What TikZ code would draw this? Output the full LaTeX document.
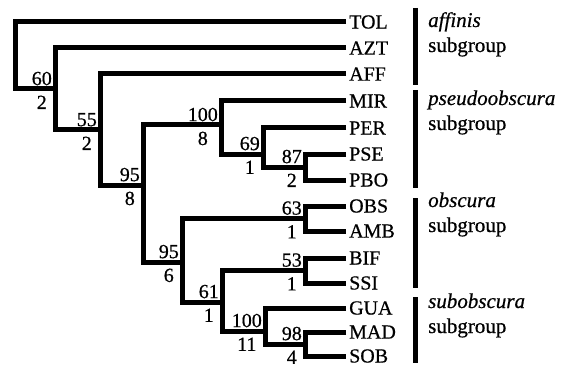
\documentclass[tikz,border=0pt]{standalone}
\usepackage{fontspec}
\setmainfont{Liberation Serif}[FakeBold=0.6]
\begin{document}
\begin{tikzpicture}[x=1pt,y=-1pt,
  br/.style={line width=5pt, line join=miter, line cap=butt},
  leaf/.style={anchor=west, inner xsep=3pt, inner ysep=0pt, font=\fontsize{20}{24}\selectfont},
  bs/.style={anchor=south east, inner sep=0pt, font=\fontsize{20}{24}\selectfont},
  dc/.style={anchor=north, inner sep=0pt, font=\fontsize{20}{24}\selectfont},
  grp/.style={anchor=base west, inner sep=0pt, font=\fontsize{21}{25}\selectfont},
  gbar/.style={line width=5pt, line cap=butt}]
\useasboundingbox (0,0) rectangle (569,374);
% leaves
\node[leaf] (TOL) at (346,22) {TOL};
\node[leaf] (AZT) at (346,48) {AZT};
\node[leaf] (AFF) at (346,74) {AFF};
\node[leaf] (MIR) at (346,101) {MIR};
\node[leaf] (PER) at (346,128) {PER};
\node[leaf] (PSE) at (346,154) {PSE};
\node[leaf] (PBO) at (346,180) {PBO};
\node[leaf] (OBS) at (346,206) {OBS};
\node[leaf] (AMB) at (346,231) {AMB};
\node[leaf] (BIF) at (346,258) {BIF};
\node[leaf] (SSI) at (346,283) {SSI};
\node[leaf] (GUA) at (346,308) {GUA};
\node[leaf] (MAD) at (346,332) {MAD};
\node[leaf] (SOB) at (346,356) {SOB};
% internal nodes
\coordinate (r) at (15,89);
\coordinate (n60) at (55,89);
\coordinate (n55) at (100,130);
\coordinate (n95a) at (143,185);
\coordinate (n100a) at (221,125);
\coordinate (n69) at (263,154);
\coordinate (n87) at (305,167);
\coordinate (n95b) at (182,262);
\coordinate (n63) at (305,218.5);
\coordinate (n61) at (222,302);
\coordinate (n53) at (305,270.5);
\coordinate (n100b) at (265,331);
\coordinate (n98) at (305,344);
% branches
\draw[br] (TOL.west) -| (r) -- (n60);
\draw[br] (AZT.west) -| (n60) |- (n55);
\draw[br] (AFF.west) -| (n55) |- (n95a);
\draw[br] (n100a) -| (n95a) |- (n95b);
\draw[br] (MIR.west) -| (n100a) |- (n69);
\draw[br] (PER.west) -| (n69) |- (n87);
\draw[br] (PSE.west) -| (n87) |- (PBO.west);
\draw[br] (n63) -| (n95b) |- (n61);
\draw[br] (OBS.west) -| (n63) |- (AMB.west);
\draw[br] (n53) -| (n61) |- (n100b);
\draw[br] (BIF.west) -| (n53) |- (SSI.west);
\draw[br] (GUA.west) -| (n100b) |- (n98);
\draw[br] (MAD.west) -| (n98) |- (SOB.west);
% support labels
\foreach \n/\b/\d in {n60/60/2, n55/55/2, n95a/95/8, n100a/100/8, n69/69/1, n87/87/2,
  n95b/95/6, n63/63/1, n61/61/1, n53/53/1, n100b/100/11, n98/98/4} {
  \node[bs] (b\n) at ([xshift=-3pt,yshift=3.5pt]\n) {\b};
  \node[dc] (d\n) at ([yshift=-10pt]b\n.south) {\d};
}
% group bars
\coordinate (gA1) at (415,8);   \coordinate (gA2) at (415,85);
\coordinate (gP1) at (415,90);  \coordinate (gP2) at (415,188);
\coordinate (gO1) at (415,198); \coordinate (gO2) at (415,288);
\coordinate (gS1) at (415,297); \coordinate (gS2) at (415,363);
\draw[gbar] (gA1) -- (gA2);
\draw[gbar] (gP1) -- (gP2);
\draw[gbar] (gO1) -- (gO2);
\draw[gbar] (gS1) -- (gS2);
% group labels
\node[grp] (tA) at (428,27) {\textit{affinis}};
\node[grp] (tA2) at (428,52) {subgroup};
\node[grp] (tP) at (428,105) {\textit{pseudoobscura}};
\node[grp] (tP2) at (428,130) {subgroup};
\node[grp] (tO) at (428,207) {\textit{obscura}};
\node[grp] (tO2) at (428,232) {subgroup};
\node[grp] (tS) at (428,308) {\textit{subobscura}};
\node[grp] (tS2) at (428,333) {subgroup};
\end{tikzpicture}
\end{document}
